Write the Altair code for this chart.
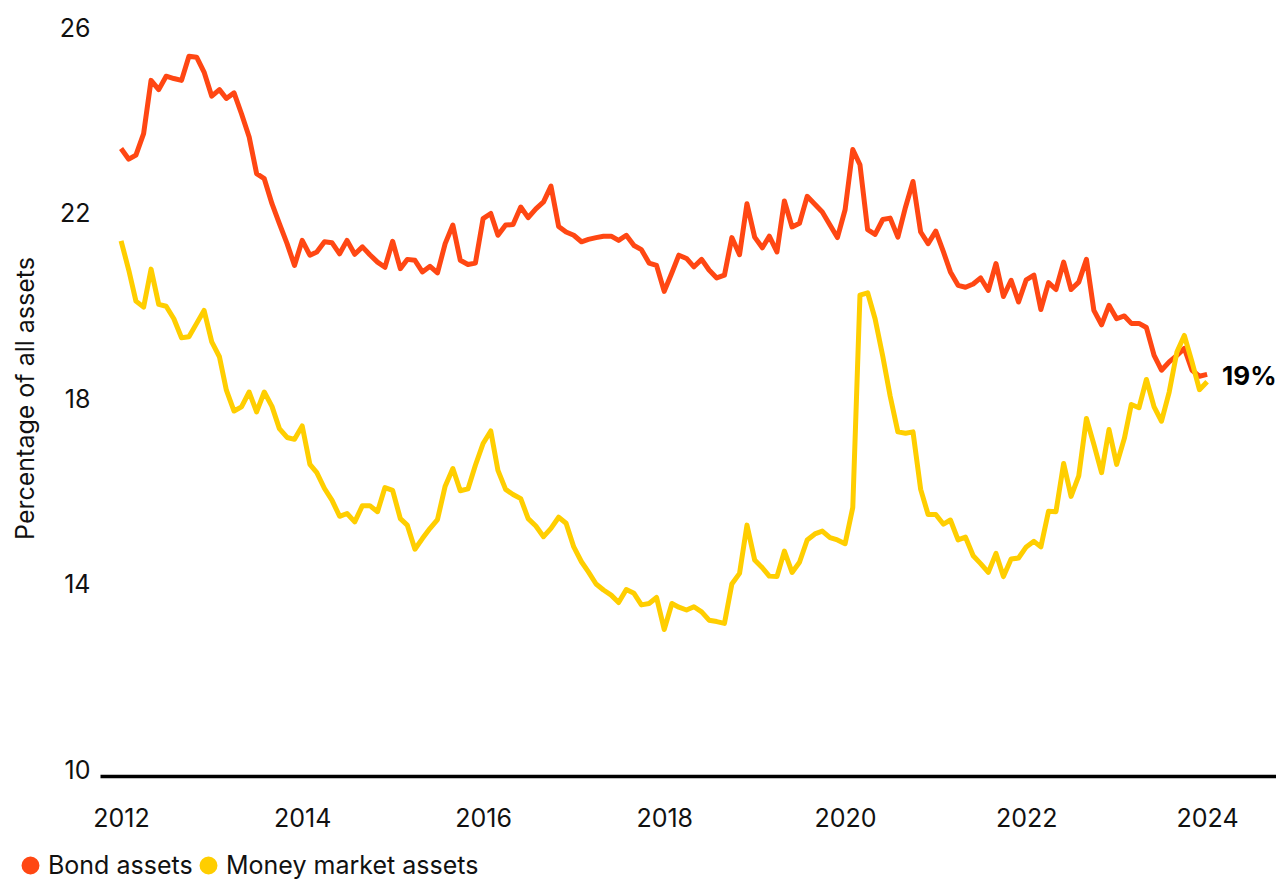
import altair as alt
import pandas as pd

# ---- data ----
start_month = "2012-01-01"
n_months = 145
series_names = ["Bond assets", "Money market assets"]
series_colors = ["#FF4713", "#FFCE00"]

bond = [23.53, 23.30, 23.39, 23.85, 25.00, 24.80, 25.09, 25.04, 25.00, 25.52,
        25.50, 25.18, 24.66, 24.80, 24.61, 24.73, 24.28, 23.78, 22.99, 22.88,
        22.34, 21.91, 21.48, 21.01, 21.55, 21.23, 21.30, 21.52, 21.50, 21.26,
        21.55, 21.25, 21.41, 21.24, 21.08, 20.97, 21.53, 20.94, 21.14, 21.12,
        20.87, 20.99, 20.85, 21.48, 21.88, 21.12, 21.03, 21.06, 22.02, 22.13,
        21.66, 21.88, 21.89, 22.27, 22.04, 22.23, 22.38, 22.72, 21.85, 21.73,
        21.66, 21.52, 21.57, 21.61, 21.64, 21.64, 21.55, 21.66, 21.44, 21.35,
        21.06, 21.01, 20.45, 20.85, 21.23, 21.16, 20.98, 21.14, 20.91, 20.74,
        20.80, 21.61, 21.24, 22.34, 21.62, 21.39, 21.64, 21.30, 22.40, 21.84,
        21.92, 22.50, 22.33, 22.16, 21.88, 21.61, 22.21, 23.51, 23.18, 21.78,
        21.68, 22.00, 22.03, 21.62, 22.27, 22.82, 21.73, 21.48, 21.75, 21.30,
        20.87, 20.58, 20.54, 20.61, 20.74, 20.47, 21.05, 20.34, 20.69, 20.22,
        20.70, 20.80, 20.06, 20.64, 20.49, 21.08, 20.49, 20.65, 21.14, 20.04,
        19.73, 20.15, 19.86, 19.92, 19.76, 19.76, 19.67, 19.07, 18.75, 18.93,
        19.07, 19.22, 18.75, 18.62, 18.66]

money = [21.54, 20.91, 20.24, 20.11, 20.93, 20.17, 20.13, 19.86, 19.45, 19.47,
         19.76, 20.04, 19.36, 19.04, 18.32, 17.87, 17.96, 18.28, 17.85, 18.28,
         17.97, 17.49, 17.30, 17.26, 17.55, 16.72, 16.54, 16.20, 15.95, 15.60,
         15.66, 15.48, 15.83, 15.83, 15.70, 16.22, 16.16, 15.55, 15.41, 14.89,
         15.12, 15.34, 15.53, 16.25, 16.63, 16.15, 16.19, 16.70, 17.17, 17.44,
         16.59, 16.18, 16.07, 15.98, 15.55, 15.39, 15.16, 15.34, 15.58, 15.45,
         14.94, 14.62, 14.40, 14.14, 14.01, 13.90, 13.74, 14.02, 13.94, 13.69,
         13.72, 13.85, 13.16, 13.72, 13.64, 13.58, 13.65, 13.54, 13.36, 13.33,
         13.29, 14.14, 14.37, 15.41, 14.66, 14.49, 14.31, 14.30, 14.85, 14.39,
         14.61, 15.09, 15.22, 15.28, 15.14, 15.09, 15.01, 15.79, 20.37, 20.42,
         19.86, 19.05, 18.19, 17.42, 17.39, 17.42, 16.18, 15.64, 15.64, 15.43,
         15.52, 15.09, 15.15, 14.75, 14.58, 14.39, 14.80, 14.30, 14.68, 14.70,
         14.94, 15.06, 14.94, 15.71, 15.70, 16.74, 16.03, 16.47, 17.71, 17.15,
         16.54, 17.47, 16.72, 17.28, 18.01, 17.94, 18.55, 17.96, 17.65, 18.28,
         19.14, 19.50, 18.93, 18.33, 18.50]

y_ticks = [10, 14, 18, 22, 26]
x_tick_years = [2012, 2014, 2016, 2018, 2020, 2022, 2024]
end_label = "19%"
y_title = "Percentage of all assets"

FONT = "Inter"
TEXT = "#111111"

dates = pd.date_range(start_month, periods=n_months, freq="MS")
df = pd.concat([
    pd.DataFrame({"date": dates, "value": bond, "series": series_names[0]}),
    pd.DataFrame({"date": dates, "value": money, "series": series_names[1]}),
], ignore_index=True)

label_df = pd.DataFrame({"date": [dates[-1]], "value": [bond[-1]], "text": [end_label]})

x_scale = alt.Scale(domain=[alt.DateTime(year=2011, month=10, date=8),
                            alt.DateTime(year=2024, month=10, date=5)])
y_scale = alt.Scale(domain=[10, 26], nice=False, zero=False)

x_enc = alt.X(
    "date:T", scale=x_scale, title=None,
    axis=alt.Axis(
        values=[alt.DateTime(year=y, month=1, date=1) for y in x_tick_years],
        format="%Y", grid=False, ticks=False, domain=True,
        domainColor="#000000", domainWidth=3.5, labelPadding=30,
        labelFontSize=25, labelColor=TEXT, labelFont=FONT,
        labelAlign="center",
    ),
)
y_enc = alt.Y(
    "value:Q", scale=y_scale,
    axis=alt.Axis(
        values=y_ticks, title=y_title, grid=False, ticks=False, domain=False,
        labelPadding=10, labelOffset=-6, labelFontSize=25, labelColor=TEXT,
        labelFont=FONT, titleFont=FONT, titleFontSize=25, titleFontWeight="normal",
        titleColor=TEXT, titleX=-75, titleY=364, titleAngle=270,
        titleAlign="center", titleBaseline="middle",
    ),
)

lines = alt.Chart(df).mark_line(strokeWidth=5, strokeJoin="round").encode(
    x=x_enc,
    y=y_enc,
    color=alt.Color(
        "series:N",
        scale=alt.Scale(domain=series_names, range=series_colors),
        legend=alt.Legend(
            title=None, orient="none", direction="horizontal",
            legendX=-82, legendY=819, symbolType="circle", symbolSize=80,
            symbolStrokeWidth=9, labelFontSize=25, labelFont=FONT,
            labelColor=TEXT, labelOffset=5, labelLimit=600,
            columnPadding=-7, padding=0,
        ),
    ),
    order=alt.Order("date:T"),
)

label = alt.Chart(label_df).mark_text(
    align="left", baseline="middle", dx=15, dy=3, fontSize=26,
    fontWeight="bold", font=FONT, color="#000000",
).encode(x="date:T", y="value:Q", text="text:N")

chart = alt.layer(lines, label).properties(
    width=1176, height=742,
    background="#ffffff",
    autosize=alt.AutoSizeParams(type="none"),
    padding={"left": 92, "top": 26, "right": 0, "bottom": 106},
).configure_view(strokeWidth=0)

chart.save("out.html", embed_options={"renderer": "svg", "actions": False})
